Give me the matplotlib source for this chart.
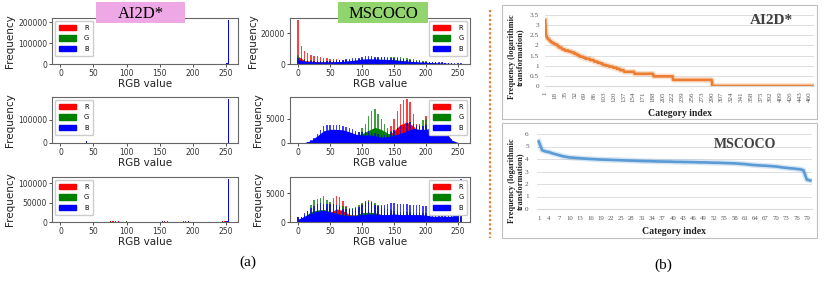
import numpy as np
import matplotlib.pyplot as plt
from matplotlib.patches import Rectangle, Patch
from matplotlib.lines import Line2D
from matplotlib.ticker import FuncFormatter

#  CONFIG
FIG_W, FIG_H = 824, 282
SERIF = 'Liberation Serif'
RGB_COLORS = ['red', 'green', 'blue']
RGB_LABELS = ['R', 'G', 'B']

#  DATA (a) — AI2D* pixel histograms (sparse bins: RGB value, count)
ai2d1_r_x = [16, 19, 22, 25, 28, 31]
ai2d1_r_y = [1200, 1500, 1800, 1500, 1200, 900]
ai2d1_b_x = [249, 250, 251, 252, 253, 254, 255]
ai2d1_b_y = [800, 1000, 1500, 2500, 4000, 8000, 210000]

ai2d2_b_x = [40, 253, 254, 255]
ai2d2_b_y = [8000, 1500, 3000, 190000]

ai2d3_r_x = [76, 79, 84, 88, 158, 162, 245, 248, 252]
ai2d3_r_y = [1500, 2000, 1500, 2500, 1500, 1500, 2000, 1500, 2500]
ai2d3_g_x = [80, 100, 186, 190]
ai2d3_g_y = [2000, 3000, 2500, 2000]
ai2d3_b_x = [128, 155, 194, 250, 252, 253, 254, 255]
ai2d3_b_y = [2000, 2500, 2000, 1500, 2500, 3500, 4500, 110000]

#  DATA (a) — MSCOCO pixel histograms, counts in thousands
# smooth body of each channel at RGB 0,10,...,250
coco_knots = list(range(0, 251, 10))
# periodic spikes at RGB 0,5,...,255
coco_spike_x = list(range(0, 256, 5))

coco1_r_base = [5.0, 2.2, 1.8, 1.6, 1.5, 1.5, 1.5, 1.5, 1.4, 1.4, 1.4, 1.3, 1.3,
                1.2, 1.2, 1.1, 1.0, 0.9, 0.8, 0.7, 0.6, 0.5, 0.4, 0.3, 0.3, 0.2]
coco1_r_spk = [28.5, 12.0, 8.5, 7.0, 6.0, 5.5, 5.0, 4.6, 4.2, 3.8, 3.5, 3.2, 3.0,
               2.8, 2.7, 2.6, 2.5, 2.4, 2.3, 2.3, 2.2, 2.2, 2.2, 2.2, 2.2, 2.2,
               2.2, 2.2, 2.1, 2.1, 2.0, 2.0, 1.9, 1.8, 1.7, 1.6, 1.5, 1.4, 1.3,
               1.2, 1.1, 1.0, 0.9, 0.8, 0.7, 0.6, 0.5, 0.4, 0.4, 0.3, 0.3, 0.2]
coco1_g_base = [2.5, 1.6, 1.3, 1.2, 1.2, 1.2, 1.4, 1.6, 1.9, 2.2, 2.5, 2.7, 2.9,
                3.0, 3.0, 2.8, 2.4, 1.9, 1.5, 1.1, 0.8, 0.6, 0.4, 0.3, 0.2, 0.1]
coco1_g_spk = [6.0, 4.0, 3.0, 2.6, 2.3, 2.1, 2.0, 1.9, 1.8, 1.8, 1.8, 1.8, 1.9,
               2.0, 2.1, 2.3, 2.5, 2.7, 2.9, 3.1, 3.3, 3.5, 3.7, 3.9, 4.1, 4.2,
               4.3, 4.4, 4.5, 4.5, 4.5, 4.4, 4.3, 4.1, 3.8, 3.5, 3.1, 2.7, 2.3,
               2.0, 1.7, 1.5, 1.3, 1.1, 0.9, 0.8, 0.6, 0.5, 0.4, 0.3, 0.2, 0.1]
coco1_b_base = [3.0, 1.8, 1.5, 1.3, 1.3, 1.3, 1.5, 1.7, 2.1, 2.6, 3.2, 3.4, 3.3,
                3.1, 2.9, 2.6, 2.2, 1.8, 1.5, 1.3, 1.1, 0.9, 0.7, 0.6, 0.4, 0.3]
coco1_b_spk = [4.0, 3.0, 2.5, 2.2, 2.0, 1.9, 1.8, 1.8, 1.8, 1.9, 2.0, 2.1, 2.3,
               2.5, 2.7, 3.0, 3.3, 3.6, 3.9, 4.2, 4.6, 5.0, 5.2, 5.0, 4.8, 4.6,
               4.5, 4.3, 4.2, 4.0, 3.8, 3.6, 3.4, 3.1, 2.8, 2.5, 2.2, 2.0, 1.8,
               1.6, 1.5, 1.4, 1.3, 1.2, 1.1, 1.0, 0.9, 0.8, 0.7, 0.6, 0.5, 0.4]

coco2_r_base = [0, 0, 0, 0.1, 0.2, 0.3, 0.4, 0.5, 0.6, 0.7, 0.8, 0.9, 1.0,
                1.1, 1.4, 2.5, 3.8, 4.3, 3.5, 2.0, 2.0, 1.5, 1.0, 0.5, 0.1, 0]
coco2_r_spk = [0, 0, 0, 0, 0.1, 0.1, 0.2, 0.3, 0.3, 0.4, 0.5, 0.5, 0.6,
               0.6, 0.7, 0.8, 0.8, 0.9, 1.0, 1.0, 1.1, 1.2, 1.3, 1.4, 1.5, 1.6,
               1.8, 2.0, 2.5, 3.5, 5.0, 6.5, 8.0, 8.8, 9.0, 8.5, 6.0, 4.0, 3.0,
               3.5, 5.5, 4.0, 2.5, 2.0, 1.5, 1.2, 0.8, 0.5, 0.3, 0.1, 0.05, 0]
coco2_g_base = [0, 0, 0.1, 0.3, 0.6, 0.9, 1.2, 1.4, 1.5, 1.6, 1.9, 2.6, 3.2,
                2.8, 2.0, 1.6, 1.5, 1.5, 1.6, 1.8, 2.0, 1.6, 1.0, 0.5, 0.1, 0]
coco2_g_spk = [0, 0, 0, 0.1, 0.2, 0.3, 0.5, 0.7, 0.9, 1.1, 1.3, 1.5, 1.7,
               1.8, 1.9, 2.0, 2.0, 2.0, 2.1, 2.3, 3.0, 4.0, 5.5, 6.5, 7.0, 6.0,
               5.0, 4.0, 3.0, 2.5, 2.2, 2.0, 2.0, 2.0, 2.0, 2.2, 2.6, 3.2, 4.0,
               4.8, 5.0, 3.5, 2.8, 2.2, 1.6, 1.2, 0.8, 0.5, 0.3, 0.1, 0.05, 0]
coco2_b_base = [0, 0.1, 0.5, 1.5, 2.5, 2.8, 2.8, 2.7, 2.3, 1.8, 1.6, 1.7, 1.5,
                1.2, 1.3, 1.6, 2.0, 2.5, 3.0, 2.8, 2.8, 3.2, 3.6, 2.5, 0.6, 0.1]
coco2_b_spk = [0, 0, 0.1, 0.3, 0.6, 1.0, 1.8, 2.6, 3.4, 3.7, 3.7, 3.7, 3.7,
               3.6, 3.5, 3.3, 3.0, 2.8, 2.5, 2.3, 2.2, 2.3, 2.4, 2.2, 2.0, 1.8,
               1.7, 1.7, 1.9, 2.2, 2.6, 3.0, 3.4, 3.8, 4.2, 4.3, 4.0, 3.7, 3.5,
               3.5, 3.7, 3.9, 4.2, 4.6, 4.8, 4.2, 3.2, 1.8, 0.8, 0.3, 0.1, 0]

coco3_r_base = [0.3, 0.8, 1.2, 1.4, 1.5, 1.6, 2.3, 2.0, 1.3, 1.2, 1.5, 1.7, 1.6,
                1.3, 1.1, 1.0, 1.0, 1.0, 0.9, 0.9, 0.8, 0.8, 0.8, 0.8, 0.9, 1.2]
coco3_r_spk = [0.8, 0.6, 1.0, 1.3, 1.6, 1.8, 2.0, 2.2, 2.3, 2.5, 3.0, 4.2, 4.5,
               4.4, 3.6, 2.8, 2.2, 2.0, 2.2, 2.5, 3.2, 3.7, 3.8, 3.6, 3.0, 2.6,
               2.2, 2.0, 1.8, 1.7, 1.6, 1.6, 1.5, 1.5, 1.4, 1.4, 1.3, 1.3, 1.3,
               1.2, 1.2, 1.2, 1.2, 1.1, 1.1, 1.1, 1.1, 1.1, 1.2, 1.4, 1.8, 3.0]
coco3_g_base = [0.4, 1.0, 1.8, 2.1, 2.2, 1.8, 1.5, 1.3, 1.2, 1.2, 1.6, 1.7, 1.6,
                1.3, 1.2, 1.1, 1.0, 1.0, 0.9, 0.9, 0.9, 0.8, 0.8, 0.8, 0.9, 1.3]
coco3_g_spk = [0.9, 0.8, 1.2, 2.0, 3.0, 3.8, 4.0, 4.2, 4.5, 3.8, 3.5, 3.1, 3.0,
               3.0, 2.8, 2.6, 2.5, 2.5, 2.6, 2.9, 3.3, 3.7, 3.6, 3.5, 3.3, 3.0,
               2.7, 2.5, 2.3, 2.1, 2.0, 1.9, 1.8, 1.8, 1.7, 1.7, 1.6, 1.6, 1.6,
               1.5, 1.5, 1.5, 1.5, 1.4, 1.4, 1.4, 1.4, 1.4, 1.5, 1.6, 2.0, 4.0]
coco3_b_base = [0.5, 1.0, 1.5, 1.9, 2.0, 1.8, 1.5, 1.2, 1.1, 1.1, 1.3, 1.4, 1.4,
                1.3, 1.3, 1.4, 1.3, 1.3, 1.3, 1.3, 1.2, 1.0, 1.0, 1.0, 1.0, 1.6]
coco3_b_spk = [0.8, 0.9, 1.5, 2.0, 2.4, 2.8, 3.2, 3.3, 3.2, 3.2, 3.2, 3.1, 3.0,
               2.6, 2.3, 2.2, 2.2, 2.2, 2.4, 2.7, 3.0, 3.3, 3.5, 3.3, 3.0, 2.8,
               2.9, 3.0, 3.2, 3.3, 3.3, 3.2, 3.2, 3.1, 3.1, 3.0, 3.0, 2.9, 2.9,
               2.8, 2.8, 2.7, 2.6, 2.5, 2.5, 2.4, 2.3, 2.3, 2.4, 2.6, 3.0, 7.5]

#  DATA (b) — category frequency distributions
# AI2D*: object count per category, given as (count, number of categories)
ai2d_cat_counts = [1780, 400, 280, 240, 224, 200, 178, 160, 141, 125, 112, 95, 79,
                   65, 56, 50, 45, 38, 33, 28, 25, 22, 19, 16, 14, 13, 11, 10, 9,
                   8, 7, 6, 5, 4, 3, 2, 1]
ai2d_cat_runs = [1, 1, 1, 1, 2, 1, 2, 2, 3, 3, 4, 3, 5,
                 5, 7, 5, 5, 5, 4, 6, 4, 8, 7, 6, 5, 4, 6, 5, 7,
                 6, 6, 7, 18, 33, 34, 68, 177]
ai2d_xticks = list(range(1, 461, 17))

# MSCOCO: log10 frequency per category (80 categories, sorted)
coco_log_freq = [5.40, 4.70, 4.60, 4.55, 4.45, 4.38, 4.30, 4.22, 4.17, 4.12,
                 4.10, 4.08, 4.06, 4.04, 4.02, 4.00, 3.99, 3.97, 3.96, 3.95,
                 3.94, 3.93, 3.92, 3.91, 3.90, 3.89, 3.88, 3.87, 3.86, 3.85,
                 3.84, 3.83, 3.83, 3.82, 3.81, 3.80, 3.80, 3.79, 3.79, 3.78,
                 3.77, 3.77, 3.76, 3.76, 3.75, 3.75, 3.74, 3.73, 3.73, 3.72,
                 3.71, 3.70, 3.70, 3.69, 3.68, 3.67, 3.66, 3.65, 3.63, 3.61,
                 3.59, 3.56, 3.53, 3.51, 3.49, 3.47, 3.46, 3.44, 3.42, 3.40,
                 3.36, 3.32, 3.29, 3.26, 3.24, 3.21, 3.18, 3.10, 2.35, 2.28]
coco_xticks = list(range(1, 80, 3))


#  HELPERS
def ax_px(fig, left, top, right, bottom):
    return fig.add_axes([left / FIG_W, 1 - bottom / FIG_H,
                         (right - left) / FIG_W, (bottom - top) / FIG_H])


def fig_xy(x, y):
    return x / FIG_W, 1 - y / FIG_H


def style_hist_axes(ax, ymax, yticks, legend_loc):
    ax.set_xlim(-12.8, 268.8)
    ax.set_ylim(0, ymax)
    ax.set_xticks([0, 50, 100, 150, 200, 250])
    ax.set_yticks(yticks)
    ax.tick_params(labelsize=5.5, length=2, width=0.6, pad=1.5, colors='#333333')
    for s in ax.spines.values():
        s.set_color('#666666')
        s.set_linewidth(0.8)
    ax.set_xlabel('RGB value', fontsize=7.5, labelpad=1, color='#222222')
    ax.set_ylabel('Frequency', fontsize=7.5, labelpad=2, color='#222222')
    handles = [Patch(color=c) for c in RGB_COLORS]
    ax.legend(handles, RGB_LABELS, loc=legend_loc, fontsize=4.8, handlelength=2.6,
              handleheight=0.8, labelspacing=0.7, borderpad=0.6, handletextpad=1.2,
              framealpha=1, edgecolor='#cccccc', borderaxespad=0.4)


def draw_sparse(ax, xs, ys):
    for (x, y), c in zip(zip(xs, ys), RGB_COLORS):
        if len(x):
            ax.bar(x, y, width=1.5, color=c, linewidth=0)


def draw_coco(ax, bases, spikes):
    for base, spk, c in zip(bases, spikes, RGB_COLORS):
        ax.fill_between(coco_knots, 0, np.array(base) * 1000, color=c, linewidth=0)
        ax.bar(coco_spike_x, np.array(spk) * 1000, width=2.2, color=c,
               alpha=0.75, linewidth=0)


def excel_chart(fig, box, axbox, values, color, xticks, xrot, ytop, ystep,
                title, title_xy, title_size, ypad, xpad, label_y, xsize):
    fig.add_artist(Rectangle(fig_xy(box[0], box[3]), (box[2] - box[0]) / FIG_W,
                             (box[3] - box[1]) / FIG_H, transform=fig.transFigure,
                             fill=False, edgecolor='#BFBFBF', linewidth=0.8))
    ax = ax_px(fig, *axbox)
    n = len(values)
    cats = np.arange(1, n + 1)
    ax.plot(cats, values, color=color, lw=4.0, alpha=0.25, solid_joinstyle='round')
    ax.plot(cats, values, color=color, lw=1.9)
    ax.set_xlim(0.5, n + 0.5)
    ax.set_ylim(0, ytop)
    ax.set_yticks(np.arange(0, ytop + 0.001, ystep))
    ax.yaxis.set_major_formatter(FuncFormatter(lambda v, p: f'{v:g}'))
    ax.set_xticks(xticks)
    ax.set_xticklabels([str(t) for t in xticks], rotation=xrot)
    ax.yaxis.grid(True, color='#D9D9D9', lw=0.6)
    ax.set_axisbelow(True)
    for side in ['top', 'right', 'left']:
        ax.spines[side].set_visible(False)
    ax.spines['bottom'].set_color('#D9D9D9')
    ax.tick_params(axis='y', length=0, labelsize=5.2, labelcolor='#595959', pad=ypad)
    ax.tick_params(axis='x', length=0, labelsize=xsize, labelcolor='#595959', pad=xpad)
    for lab in ax.get_xticklabels() + ax.get_yticklabels():
        lab.set_family(SERIF)
    ax.set_facecolor('none')

    cx = (axbox[0] + axbox[2]) / 2
    fig.text(*fig_xy(cx, box[3] - 6), 'Category index', ha='center', va='center',
             fontsize=7, fontweight='bold', family=SERIF, color='#222222')
    fig.text(*fig_xy(516, label_y), 'Frequency (logarithmic\ntransformation)',
             rotation=90, ha='center', va='center', fontsize=6, fontweight='bold',
             family=SERIF, linespacing=1.0, color='#222222')
    fig.text(*fig_xy(*title_xy), title, ha='center', va='center',
             fontsize=title_size, fontweight='bold', family=SERIF, color='#404040')
    return ax


def title_box(fig, x0, y0, x1, y1, text, color):
    fig.add_artist(Rectangle(fig_xy(x0, y1), (x1 - x0) / FIG_W, (y1 - y0) / FIG_H,
                             transform=fig.transFigure, facecolor=color,
                             edgecolor='none', zorder=10))
    t = fig.text(*fig_xy((x0 + x1) / 2, (y0 + y1) / 2 + 1), text, ha='center',
                 va='center', fontsize=12, family=SERIF, color='black')
    t.set_zorder(11)


#  MAIN
if __name__ == "__main__":
    fig = plt.figure(figsize=(FIG_W / 100, FIG_H / 100), dpi=100)

    rows = [(18, 64), (97, 143), (177, 222)]

    # (a) left column: AI2D*
    ax = ax_px(fig, 52, rows[0][0], 238, rows[0][1])
    draw_sparse(ax, [ai2d1_r_x, [], ai2d1_b_x], [ai2d1_r_y, [], ai2d1_b_y])
    style_hist_axes(ax, 220500, [0, 100000, 200000], 'upper left')

    ax = ax_px(fig, 52, rows[1][0], 238, rows[1][1])
    draw_sparse(ax, [[], [], ai2d2_b_x], [[], [], ai2d2_b_y])
    style_hist_axes(ax, 199500, [0, 100000], 'upper left')

    ax = ax_px(fig, 52, rows[2][0], 238, rows[2][1])
    draw_sparse(ax, [ai2d3_r_x, ai2d3_g_x, ai2d3_b_x], [ai2d3_r_y, ai2d3_g_y, ai2d3_b_y])
    style_hist_axes(ax, 115500, [0, 50000, 100000], 'upper left')

    # (a) right column: MSCOCO
    coco_sets = [
        ([coco1_r_base, coco1_g_base, coco1_b_base], [coco1_r_spk, coco1_g_spk, coco1_b_spk], [0, 20000]),
        ([coco2_r_base, coco2_g_base, coco2_b_base], [coco2_r_spk, coco2_g_spk, coco2_b_spk], [0, 5000]),
        ([coco3_r_base, coco3_g_base, coco3_b_base], [coco3_r_spk, coco3_g_spk, coco3_b_spk], [0, 5000]),
    ]
    for (top, bottom), (bases, spikes, yt) in zip(rows, coco_sets):
        ax = ax_px(fig, 290, top, 470, bottom)
        draw_coco(ax, bases, spikes)
        ymax = max(max(s) for s in spikes) * 1000 * 1.05
        style_hist_axes(ax, ymax, yt, 'upper right')

    title_box(fig, 96, 2, 185, 23, 'AI2D*', '#EEA8E6')
    title_box(fig, 338, 2, 428, 23, 'MSCOCO', '#92D46E')

    # separator
    fig.add_artist(Line2D([490 / FIG_W] * 2, [1 - 10 / FIG_H, 1 - 238 / FIG_H],
                          transform=fig.transFigure, color='#ED7D31',
                          linestyle=(0, (1, 1)), linewidth=1.6))

    # (b) category distributions
    ai2d_log = np.log10(np.repeat(ai2d_cat_counts, ai2d_cat_runs))
    excel_chart(fig, (502, 5, 817, 119), (545, 15, 814, 86), ai2d_log, '#ED7D31',
                ai2d_xticks, 90, 3.5, 0.5, 'AI2D*', (771, 20), 11,
                ypad=4.5, xpad=4, label_y=57, xsize=5)
    excel_chart(fig, (502, 123, 817, 238), (537, 134, 812, 209), coco_log_freq,
                '#5B9BD5', coco_xticks, 0, 6, 1, 'MSCOCO', (745, 144), 10,
                ypad=6, xpad=5, label_y=181, xsize=4.9)

    fig.text(*fig_xy(248, 262), '(a)', ha='center', va='center', fontsize=11, family=SERIF)
    fig.text(*fig_xy(663, 265), '(b)', ha='center', va='center', fontsize=11, family=SERIF)

    fig.savefig('out.png', dpi=100)
